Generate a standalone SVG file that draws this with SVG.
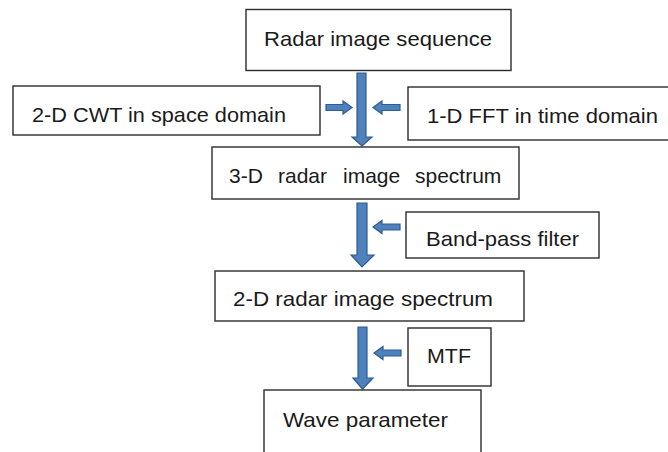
<svg xmlns="http://www.w3.org/2000/svg" width="668" height="452" viewBox="0 0 668 452">
<style>
.box{fill:#fff;stroke:#2b2b2b;stroke-width:1.4}
.t{font-family:"Liberation Sans",Arial,sans-serif;font-size:21px;fill:#1a1a1a}
.arr{fill:#4f81bd;stroke:#2e5c8f;stroke-width:1.2;stroke-linejoin:miter}
</style>
<rect width="668" height="452" fill="#fff"/>
<g id="connectors">
<path class="arr" d="M357,73 H366 V137 H372 L362,146 L352,137 H357 Z"/>
<path class="arr" d="M357,203 H367 V255 H374 L362,267 L351,255 H357 Z"/>
<path class="arr" d="M358,327 H367 V378 H373 L362.5,389 L353,378 H358 Z"/>
<path class="arr" d="M326,104.5 H343 V101 L352,107.5 L343,114 V110.5 H326 Z"/>
<path class="arr" d="M400,104.5 H382 V101 L373,107.5 L382,114 V110.5 H400 Z"/>
<path class="arr" d="M400,224 H382 V220.5 L373,227 L382,233.5 V230 H400 Z"/>
<path class="arr" d="M401,350 H383 V346.5 L374,353 L383,359.5 V356 H401 Z"/>
</g>
<g id="radar-image-sequence">
<rect class="box" x="246" y="9.5" width="265" height="61"/>
<text class="t" x="264" y="46" textLength="228" lengthAdjust="spacingAndGlyphs">Radar image sequence</text>
</g>
<g id="cwt">
<rect class="box" x="13" y="86" width="307" height="49"/>
<text class="t" x="32" y="122" textLength="254" lengthAdjust="spacingAndGlyphs">2-D CWT in space domain</text>
</g>
<g id="fft">
<rect class="box" x="408" y="87" width="264" height="53"/>
<text class="t" x="427" y="123" textLength="231" lengthAdjust="spacingAndGlyphs">1-D FFT in time domain</text>
</g>
<g id="spectrum-3d">
<rect class="box" x="212" y="147" width="307" height="52"/>
<text class="t" y="183"><tspan x="229">3-D</tspan><tspan x="278">radar</tspan><tspan x="343">image</tspan><tspan x="415">spectrum</tspan></text>
</g>
<g id="band-pass">
<rect class="box" x="406" y="212" width="193" height="46"/>
<text class="t" x="426" y="246" textLength="153" lengthAdjust="spacingAndGlyphs">Band-pass filter</text>
</g>
<g id="spectrum-2d">
<rect class="box" x="215" y="271" width="309" height="50"/>
<text class="t" x="233" y="306" textLength="260" lengthAdjust="spacingAndGlyphs">2-D radar image spectrum</text>
</g>
<g id="mtf">
<rect class="box" x="408" y="328" width="83" height="58"/>
<text class="t" x="427" y="363" textLength="44" lengthAdjust="spacingAndGlyphs">MTF</text>
</g>
<g id="wave-parameter">
<rect class="box" x="264" y="390" width="217" height="70"/>
<text class="t" x="283" y="427" textLength="165" lengthAdjust="spacingAndGlyphs">Wave parameter</text>
</g>
</svg>
